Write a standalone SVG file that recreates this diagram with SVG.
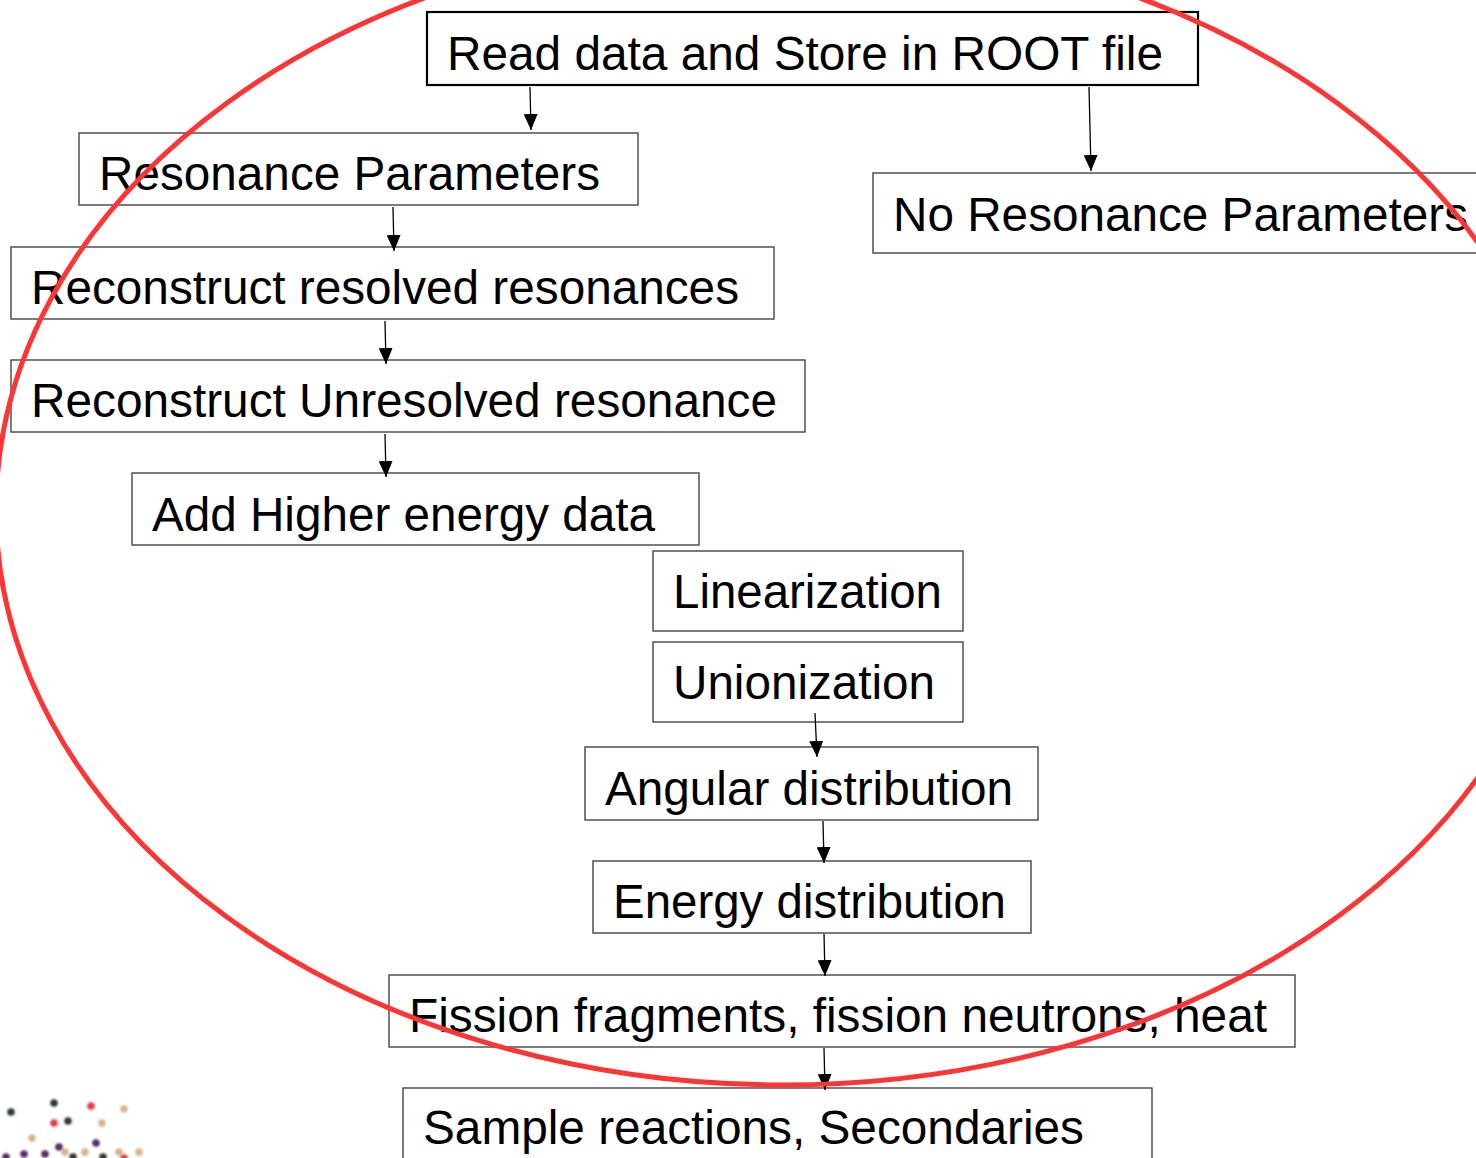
<svg xmlns="http://www.w3.org/2000/svg" width="1476" height="1158" viewBox="0 0 1476 1158">
  <style>
    .box { fill: #ffffff; stroke: #454545; stroke-width: 1.4; }
    .box-main { fill: #ffffff; stroke: #000000; stroke-width: 2.2; }
    .label { font-family: "Liberation Sans", Arial, sans-serif; font-size: 48px; fill: #000000; }
    .link { stroke: #000000; stroke-width: 1.3; fill: none; marker-end: url(#head); }
    .loop { fill: none; stroke: #ff3535; stroke-width: 5; }
  </style>
  <defs>
    <!-- filled triangular arrowhead, tip at the end of the line -->
    <marker id="head" viewBox="0 0 16 14" refX="16" refY="7" markerWidth="16" markerHeight="14" markerUnits="userSpaceOnUse" orient="auto">
      <path d="M0,0 L16,7 L0,14 Z" fill="#000000"/>
    </marker>
    <filter id="soft" x="-50%" y="-50%" width="200%" height="200%">
      <feGaussianBlur stdDeviation="0.9"/>
    </filter>
  </defs>

  <!-- process steps -->
  <g id="read-data">
    <rect class="box-main" x="427" y="12" width="771" height="73"/>
    <text class="label" x="447" y="70" textLength="716" lengthAdjust="spacingAndGlyphs">Read data and Store in ROOT file</text>
  </g>
  <g id="resonance-parameters">
    <rect class="box" x="79" y="133" width="559" height="72"/>
    <text class="label" x="99" y="190" textLength="501" lengthAdjust="spacingAndGlyphs">Resonance Parameters</text>
  </g>
  <g id="no-resonance-parameters">
    <rect class="box" x="873" y="173" width="620" height="80"/>
    <text class="label" x="893" y="231" textLength="575" lengthAdjust="spacingAndGlyphs">No Resonance Parameters</text>
  </g>
  <g id="resolved">
    <rect class="box" x="11" y="247" width="763" height="72"/>
    <text class="label" x="31" y="304" textLength="708" lengthAdjust="spacingAndGlyphs">Reconstruct resolved resonances</text>
  </g>
  <g id="unresolved">
    <rect class="box" x="11" y="360" width="794" height="72"/>
    <text class="label" x="31" y="417" textLength="746" lengthAdjust="spacingAndGlyphs">Reconstruct Unresolved resonance</text>
  </g>
  <g id="higher-energy">
    <rect class="box" x="132" y="473" width="567" height="72"/>
    <text class="label" x="152" y="531" textLength="503" lengthAdjust="spacingAndGlyphs">Add Higher energy data</text>
  </g>
  <g id="linearization">
    <rect class="box" x="653" y="551" width="310" height="80"/>
    <text class="label" x="673" y="608" textLength="269" lengthAdjust="spacingAndGlyphs">Linearization</text>
  </g>
  <g id="unionization">
    <rect class="box" x="653" y="642" width="310" height="80"/>
    <text class="label" x="673" y="699" textLength="262" lengthAdjust="spacingAndGlyphs">Unionization</text>
  </g>
  <g id="angular">
    <rect class="box" x="585" y="747" width="453" height="73"/>
    <text class="label" x="605" y="805" textLength="408" lengthAdjust="spacingAndGlyphs">Angular distribution</text>
  </g>
  <g id="energy">
    <rect class="box" x="593" y="861" width="438" height="72"/>
    <text class="label" x="613" y="918" textLength="393" lengthAdjust="spacingAndGlyphs">Energy distribution</text>
  </g>
  <g id="fission">
    <rect class="box" x="389" y="975" width="906" height="72"/>
    <text class="label" x="409" y="1032" textLength="858" lengthAdjust="spacingAndGlyphs">Fission fragments, fission neutrons, heat</text>
  </g>
  <g id="sample">
    <rect class="box" x="403" y="1088" width="749" height="90"/>
    <text class="label" x="423" y="1144" textLength="661" lengthAdjust="spacingAndGlyphs">Sample reactions, Secondaries</text>
  </g>

  <!-- connectors -->
  <g id="connectors">
    <line class="link" x1="530" y1="87" x2="531" y2="130"/>
    <line class="link" x1="1089" y1="87" x2="1091" y2="171"/>
    <line class="link" x1="393" y1="207" x2="394" y2="251"/>
    <line class="link" x1="385" y1="321" x2="386" y2="364"/>
    <line class="link" x1="385" y1="434" x2="386" y2="477"/>
    <line class="link" x1="815" y1="713" x2="817" y2="757"/>
    <line class="link" x1="823" y1="821" x2="824" y2="863"/>
    <line class="link" x1="824" y1="934" x2="825" y2="976"/>
    <line class="link" x1="824" y1="1048" x2="825" y2="1090"/>
  </g>

  <!-- red outline around the resonance / cross-section stages -->
  <ellipse class="loop" cx="782" cy="510" rx="786" ry="575"/>

  <!-- scattered logo dots, lower left -->
  <g id="dots" filter="url(#soft)">
    <circle cx="11" cy="1112" r="3.8" fill="#2f3a2f"/>
    <circle cx="54" cy="1103" r="3.8" fill="#2f3a2f"/>
    <circle cx="91" cy="1106" r="3.8" fill="#e23a48"/>
    <circle cx="124" cy="1109" r="3.8" fill="#d8b38a"/>
    <circle cx="54" cy="1123" r="3.8" fill="#e23a48"/>
    <circle cx="68" cy="1121" r="3.8" fill="#2f3a2f"/>
    <circle cx="102" cy="1123" r="3.8" fill="#d8b38a"/>
    <circle cx="32" cy="1138" r="3.8" fill="#d8b38a"/>
    <circle cx="59" cy="1147" r="3.8" fill="#5b2a6b"/>
    <circle cx="96" cy="1143" r="3.8" fill="#5b2a6b"/>
    <circle cx="24" cy="1154" r="3.8" fill="#5b2a6b"/>
    <circle cx="45" cy="1154" r="3.8" fill="#5b2a6b"/>
    <circle cx="65" cy="1152" r="3.8" fill="#d8b38a"/>
    <circle cx="85" cy="1152" r="3.8" fill="#d8b38a"/>
    <circle cx="73" cy="1157" r="3.8" fill="#2f3a2f"/>
    <circle cx="119" cy="1152" r="3.8" fill="#d8b38a"/>
    <circle cx="139" cy="1152" r="3.8" fill="#d8b38a"/>
    <circle cx="103" cy="1157" r="3.8" fill="#2f3a2f"/>
    <circle cx="124" cy="1158" r="3.8" fill="#e23a48"/>
    <circle cx="6" cy="1157" r="3.8" fill="#5b2a6b"/>
  </g>
</svg>
